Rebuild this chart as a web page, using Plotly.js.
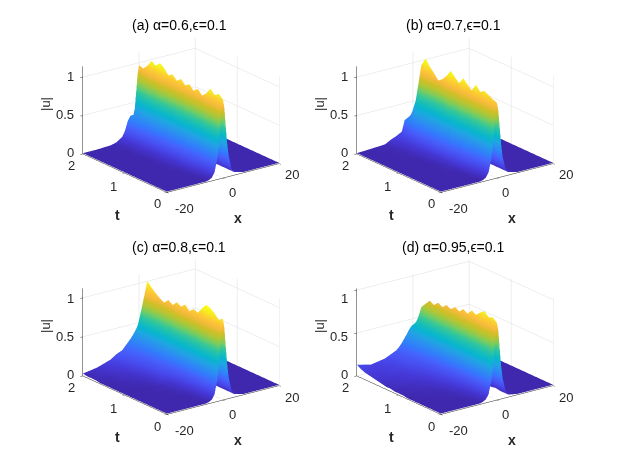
<!DOCTYPE html>
<html><head><meta charset="utf-8">
<script src="https://cdn.plot.ly/plotly-3.0.1.min.js"></script>
<style>html,body{margin:0;padding:0;background:#fff;}#plot{width:623px;height:467px;}#dbg{position:absolute;left:2px;top:455px;font:9px sans-serif;color:#c00}</style>
</head><body><div id="plot"></div><div id="dbg"></div>
<script>
window.onerror = function(m){ document.getElementById('dbg').textContent += ' ERR ' + m; };
// ---- data ----
var xVals = [-20,-15,-10,-8,-6,-5,-4,-3,-2,-1.5,-1,-0.5,0,0.5,1,1.5,2,3,4,7,12,20];
var tVals = [0,0.1,0.2,0.3,0.4,0.5,0.6,0.7,0.8,0.9,1.0,1.1,1.2,1.3,1.4,1.5,1.6,1.7,1.8,1.9,2.0];
var titles = ['(a) \u03b1=0.6,\u03f5=0.1','(b) \u03b1=0.7,\u03f5=0.1','(c) \u03b1=0.8,\u03f5=0.1','(d) \u03b1=0.95,\u03f5=0.1'];
var xTicks = [-20,0,20];
var xTickText = ['-20','0','20'];
var tTicks = [0,1,2];
var tTickText = ['0','1','2'];
var zTicks = [0,0.5,1];
var zTickText = ['0','0.5','1'];
var zMax = [1.14,1.14,1.12,1.02];

var zA = [
[.01,.01,.01,.01,.01,.02,.04,.10,.28,.44,.66,.91,1.02,.91,.66,.44,.28,.10,.04,.01,.01,.01],
[.01,.01,.01,.01,.01,.02,.05,.12,.30,.46,.70,.95,1.07,.95,.70,.46,.29,.11,.04,.01,.01,.01],
[.01,.01,.01,.01,.02,.03,.06,.13,.29,.40,.66,.92,1.03,.92,.67,.44,.28,.10,.04,.01,.01,.01],
[.01,.01,.01,.01,.02,.04,.08,.15,.33,.49,.74,.97,1.09,.97,.71,.47,.29,.11,.04,.01,.01,.01],
[.01,.01,.01,.01,.02,.05,.10,.17,.25,.45,.60,.89,1.00,.89,.65,.43,.27,.10,.04,.01,.01,.01],
[.01,.01,.01,.01,.03,.06,.12,.20,.34,.38,.60,.85,.95,.85,.62,.41,.26,.10,.04,.01,.01,.01],
[.01,.01,.01,.01,.03,.07,.11,.18,.30,.50,.68,.90,1.01,.90,.66,.43,.27,.10,.04,.01,.01,.01],
[.01,.01,.01,.02,.04,.08,.14,.22,.36,.40,.57,.86,.96,.85,.62,.41,.26,.10,.04,.01,.01,.01],
[.01,.01,.01,.02,.04,.07,.12,.19,.28,.48,.72,.92,1.02,.91,.66,.44,.28,.10,.04,.01,.01,.01],
[.01,.01,.01,.02,.05,.09,.15,.24,.38,.42,.62,.87,.98,.87,.64,.42,.26,.10,.04,.01,.01,.01],
[.01,.01,.01,.02,.05,.08,.14,.22,.31,.50,.70,.93,1.04,.93,.68,.45,.28,.10,.04,.01,.01,.01],
[.01,.01,.01,.02,.06,.10,.17,.26,.40,.44,.60,.88,.99,.88,.64,.43,.27,.10,.04,.01,.01,.01],
[.01,.01,.01,.02,.05,.09,.16,.24,.33,.52,.74,.94,1.05,.93,.68,.45,.28,.11,.04,.01,.01,.01],
[.01,.01,.01,.02,.06,.11,.19,.28,.42,.45,.66,.90,1.01,.90,.66,.43,.27,.10,.04,.01,.01,.01],
[.01,.01,.01,.03,.06,.10,.18,.27,.36,.53,.72,.96,1.08,.96,.70,.46,.29,.11,.04,.01,.01,.01],
[.01,.01,.01,.03,.07,.12,.21,.30,.44,.50,.78,1.00,1.12,1.00,.73,.48,.30,.11,.04,.01,.01,.01],
[.01,.01,.01,.03,.07,.11,.20,.29,.37,.50,.68,.95,1.06,.94,.69,.46,.29,.11,.04,.01,.01,.01],
[.01,.01,.01,.03,.08,.13,.23,.31,.45,.55,.76,.98,1.10,.98,.72,.47,.30,.11,.04,.01,.01,.01],
[.01,.01,.02,.03,.08,.14,.25,.33,.40,.46,.67,.90,1.01,.90,.66,.43,.27,.10,.04,.01,.01,.01],
[.01,.01,.02,.04,.09,.15,.27,.35,.36,.44,.63,.85,.95,.85,.62,.41,.26,.10,.04,.01,.01,.01],
[.01,.01,.02,.04,.09,.16,.28,.34,.34,.42,.64,.86,.97,.86,.63,.42,.26,.10,.04,.01,.01,.01]
];
var zB = [
[.01,.01,.01,.01,.01,.02,.04,.10,.27,.42,.64,.87,.98,.87,.64,.42,.26,.10,.04,.01,.01,.01],
[.01,.01,.01,.01,.01,.02,.05,.11,.28,.44,.66,.89,1.00,.89,.65,.43,.27,.10,.04,.01,.01,.01],
[.01,.01,.01,.01,.02,.03,.06,.13,.30,.40,.68,.92,1.03,.92,.67,.44,.28,.10,.04,.01,.01,.01],
[.01,.01,.01,.01,.02,.04,.08,.16,.31,.47,.73,.94,1.06,.94,.69,.46,.29,.11,.04,.01,.01,.01],
[.01,.01,.01,.01,.02,.05,.10,.19,.25,.44,.60,.91,1.02,.91,.66,.44,.28,.10,.04,.01,.01,.01],
[.01,.01,.01,.01,.03,.06,.12,.21,.36,.50,.76,.97,1.09,.97,.71,.47,.29,.11,.04,.01,.01,.01],
[.01,.01,.01,.02,.03,.07,.14,.24,.38,.40,.58,.88,.99,.88,.64,.43,.27,.10,.04,.01,.01,.01],
[.01,.01,.01,.02,.04,.08,.13,.22,.30,.49,.69,.93,1.04,.93,.68,.45,.28,.10,.04,.01,.01,.01],
[.01,.01,.01,.02,.04,.09,.16,.26,.40,.52,.76,.98,1.10,.98,.72,.47,.30,.11,.04,.01,.01,.01],
[.01,.01,.01,.02,.05,.10,.18,.28,.42,.43,.60,.90,1.01,.90,.66,.43,.27,.10,.04,.01,.01,.01],
[.01,.01,.01,.02,.05,.09,.16,.25,.33,.51,.70,.94,1.06,.94,.69,.46,.29,.11,.04,.01,.01,.01],
[.01,.01,.01,.03,.06,.11,.19,.29,.43,.55,.79,1.00,1.12,1.00,.73,.48,.30,.11,.04,.01,.01,.01],
[.01,.01,.01,.03,.06,.12,.21,.31,.38,.46,.62,.92,1.03,.92,.67,.44,.28,.10,.04,.01,.01,.01],
[.01,.01,.01,.03,.07,.11,.19,.28,.40,.50,.66,.85,.96,.85,.62,.41,.26,.10,.04,.01,.01,.01],
[.01,.01,.02,.03,.07,.12,.20,.30,.36,.44,.58,.82,.92,.82,.60,.40,.25,.09,.04,.01,.01,.01],
[.01,.01,.02,.04,.08,.13,.22,.32,.45,.49,.68,.88,.99,.88,.64,.43,.27,.10,.04,.01,.01,.01],
[.01,.01,.02,.04,.08,.12,.21,.33,.40,.52,.66,.93,1.05,.93,.68,.45,.28,.10,.04,.01,.01,.01],
[.01,.01,.02,.04,.09,.13,.23,.34,.47,.56,.78,1.01,1.13,1.01,.73,.49,.31,.11,.04,.01,.01,.01],
[.01,.01,.02,.05,.09,.12,.20,.32,.44,.51,.67,.91,1.02,.91,.66,.44,.28,.10,.04,.01,.01,.01],
[.01,.01,.03,.06,.10,.12,.15,.30,.33,.36,.42,.54,.60,.54,.39,.26,.16,.06,.03,.01,.01,.01],
[.01,.02,.03,.07,.10,.12,.14,.28,.30,.31,.32,.34,.35,.32,.23,.15,.10,.04,.02,.01,.01,.01]
];
var zC = [
[.01,.01,.01,.01,.01,.02,.04,.10,.28,.45,.67,.93,1.04,.92,.67,.45,.28,.10,.04,.01,.01,.01],
[.01,.01,.01,.01,.01,.02,.05,.11,.28,.43,.65,.89,1.00,.89,.65,.43,.27,.10,.04,.01,.01,.01],
[.01,.01,.01,.01,.02,.03,.06,.12,.30,.40,.69,.94,1.06,.94,.69,.46,.29,.11,.04,.01,.01,.01],
[.01,.01,.01,.01,.02,.03,.07,.14,.32,.48,.75,.98,1.10,.98,.72,.47,.30,.11,.04,.01,.01,.01],
[.01,.01,.01,.01,.02,.04,.08,.15,.27,.49,.70,1.00,1.12,1.00,.73,.48,.30,.11,.04,.01,.01,.01],
[.01,.01,.01,.02,.03,.05,.09,.16,.31,.40,.68,.93,1.05,.93,.68,.45,.28,.11,.04,.01,.01,.01],
[.01,.01,.01,.02,.04,.06,.11,.18,.33,.47,.60,.86,.97,.86,.63,.42,.26,.10,.04,.01,.01,.01],
[.01,.01,.01,.02,.04,.07,.11,.17,.27,.45,.67,.88,.99,.88,.64,.43,.27,.10,.04,.01,.01,.01],
[.01,.01,.02,.03,.05,.08,.13,.20,.34,.40,.58,.84,.94,.84,.61,.40,.25,.09,.04,.01,.01,.01],
[.01,.01,.02,.03,.06,.09,.14,.19,.32,.48,.65,.89,1.00,.89,.65,.43,.27,.10,.04,.01,.01,.01],
[.01,.01,.02,.05,.10,.13,.16,.22,.36,.42,.62,.85,.95,.85,.62,.41,.26,.10,.04,.01,.01,.01],
[.01,.01,.03,.05,.11,.14,.17,.23,.31,.46,.66,.87,.98,.87,.64,.42,.26,.10,.04,.01,.01,.01],
[.01,.02,.03,.06,.12,.15,.19,.25,.37,.43,.58,.82,.92,.82,.60,.40,.25,.09,.04,.01,.01,.01],
[.01,.02,.04,.07,.13,.16,.20,.26,.33,.47,.63,.85,.96,.85,.62,.41,.26,.10,.04,.01,.01,.01],
[.01,.02,.05,.08,.14,.17,.21,.27,.38,.42,.59,.80,.90,.80,.58,.39,.24,.09,.04,.01,.01,.01],
[.01,.03,.06,.10,.15,.18,.22,.28,.34,.46,.61,.83,.93,.83,.60,.40,.25,.09,.04,.01,.01,.01],
[.01,.03,.07,.11,.16,.19,.23,.29,.39,.44,.64,.86,.97,.86,.63,.42,.26,.10,.04,.01,.01,.01],
[.02,.04,.08,.12,.17,.20,.24,.30,.36,.50,.69,.91,1.02,.91,.66,.44,.28,.10,.04,.01,.01,.01],
[.02,.05,.09,.13,.18,.21,.25,.31,.41,.52,.73,.96,1.08,.96,.70,.46,.29,.11,.04,.01,.01,.01],
[.02,.05,.10,.15,.19,.23,.27,.32,.40,.46,.55,.72,.80,.71,.52,.34,.22,.08,.03,.01,.01,.01],
[.03,.06,.12,.17,.20,.24,.28,.32,.37,.40,.43,.45,.47,.42,.31,.20,.13,.05,.02,.01,.01,.01]
];
var zD = [
[.01,.01,.01,.01,.01,.02,.04,.09,.24,.39,.59,.80,.90,.80,.58,.38,.24,.09,.03,.01,.01,.01],
[.01,.01,.01,.01,.02,.03,.05,.10,.26,.41,.61,.84,.94,.83,.61,.40,.25,.09,.03,.01,.01,.01],
[.01,.01,.01,.01,.02,.03,.06,.12,.27,.36,.60,.82,.92,.82,.60,.40,.25,.09,.03,.01,.01,.01],
[.01,.01,.01,.01,.03,.04,.07,.13,.28,.42,.66,.86,.97,.86,.63,.42,.26,.10,.04,.01,.01,.01],
[.01,.01,.01,.02,.03,.05,.08,.14,.23,.41,.58,.83,.93,.83,.60,.40,.25,.09,.03,.01,.01,.01],
[.01,.01,.02,.02,.04,.06,.09,.15,.27,.35,.58,.78,.88,.78,.57,.38,.24,.09,.03,.01,.01,.01],
[.01,.01,.02,.03,.05,.07,.10,.16,.29,.44,.60,.81,.91,.81,.59,.39,.25,.09,.03,.01,.01,.01],
[.01,.02,.02,.03,.06,.08,.11,.17,.25,.38,.53,.76,.85,.75,.55,.37,.23,.08,.03,.01,.01,.01],
[.01,.02,.03,.04,.07,.09,.12,.18,.30,.42,.61,.78,.88,.78,.57,.38,.24,.09,.03,.01,.01,.01],
[.02,.02,.03,.05,.08,.10,.13,.19,.26,.36,.55,.74,.83,.74,.54,.36,.22,.08,.03,.01,.01,.01],
[.02,.03,.04,.06,.09,.11,.14,.20,.31,.42,.57,.77,.86,.76,.56,.37,.23,.09,.03,.01,.01,.01],
[.02,.03,.05,.07,.10,.12,.15,.21,.32,.37,.51,.72,.81,.72,.53,.35,.22,.08,.03,.01,.01,.01],
[.03,.04,.06,.08,.11,.13,.16,.22,.29,.42,.58,.75,.84,.75,.55,.36,.23,.08,.03,.01,.01,.01],
[.03,.05,.07,.09,.12,.14,.17,.23,.33,.38,.53,.70,.79,.70,.51,.34,.21,.08,.03,.01,.01,.01],
[.04,.05,.08,.10,.13,.15,.18,.24,.31,.43,.55,.73,.82,.73,.53,.35,.22,.08,.03,.01,.01,.01],
[.05,.06,.08,.11,.14,.16,.19,.25,.34,.39,.50,.69,.77,.68,.50,.33,.21,.08,.03,.01,.01,.01],
[.06,.07,.09,.12,.15,.17,.20,.26,.32,.44,.56,.71,.80,.71,.52,.34,.22,.08,.03,.01,.01,.01],
[.07,.07,.10,.13,.16,.18,.22,.27,.36,.41,.51,.66,.74,.66,.48,.32,.20,.07,.03,.01,.01,.01],
[.08,.08,.10,.13,.17,.19,.23,.28,.37,.42,.50,.60,.68,.60,.44,.29,.18,.07,.03,.01,.01,.01],
[.10,.08,.11,.14,.17,.20,.24,.29,.36,.40,.44,.48,.50,.45,.33,.22,.14,.05,.02,.01,.01,.01],
[.13,.09,.12,.15,.18,.21,.25,.30,.35,.38,.40,.42,.42,.38,.28,.18,.12,.04,.02,.01,.01,.01]
];
var panels = [zA, zB, zC, zD];

// ---- style ----
var parula = [
 [0/63,'rgb(62,38,168)'],[4/63,'rgb(69,55,213)'],[8/63,'rgb(72,77,240)'],[12/63,'rgb(69,99,253)'],
 [16/63,'rgb(50,124,252)'],[20/63,'rgb(43,145,239)'],[24/63,'rgb(32,165,227)'],[28/63,'rgb(8,181,208)'],
 [32/63,'rgb(25,191,182)'],[36/63,'rgb(55,200,151)'],[40/63,'rgb(114,205,100)'],[44/63,'rgb(171,199,57)'],
 [48/63,'rgb(209,191,39)'],[52/63,'rgb(248,186,61)'],[56/63,'rgb(252,207,48)'],[60/63,'rgb(246,239,32)'],
 [1,'rgb(249,251,21)']
];
var FONT = 'Liberation Sans, Arial, Helvetica, sans-serif';
var TXT = '#262626';
var W = 623, H = 467, dw = 300, dh = 230;
var offs = [[0,0],[274,0],[0,222],[274,222]];
var boxCenter = [181,114.5];
var r = 1.32;
var eye = {x:-0.5627*r, y:-0.7524*r, z:0.3431*r};
var zLabPos = [[76,152],[76,114],[76,76]];
var tLabPos = [[157,204],[113,186],[71,165]];
var xLabPos = [[184,208],[232,192],[292,175]];

var data = [], layout = {width:W, height:H, margin:{l:0,r:0,t:0,b:0}, paper_bgcolor:'#fff', showlegend:false, annotations:[]};
function axisStyle(range, ticks){
  return {range:range, tickvals:ticks, showticklabels:false, title:{text:''}, showbackground:false, showgrid:true,
    gridcolor:'#dedede', gridwidth:1, showline:true, linecolor:TXT, linewidth:1, ticks:'outside', ticklen:3,
    tickcolor:TXT, zeroline:false, showspikes:false};
}
function ann(text, px, py, xa, size, extra){
  var a = {text:text, x:px/W, y:1-py/H, xref:'paper', yref:'paper', showarrow:false, xanchor:xa, yanchor:'middle',
    font:{family:FONT, size:size, color:TXT}};
  for (var k in (extra||{})) a[k] = extra[k];
  layout.annotations.push(a);
}
for (var i=0;i<4;i++){
  var sid = i===0 ? 'scene' : 'scene'+(i+1);
  var ox = offs[i][0], oy = offs[i][1];
  var cx = boxCenter[0]+ox, cy = boxCenter[1]+oy;
  data.push({type:'surface', x:xVals, y:tVals, z:panels[i], scene:sid, colorscale:parula, showscale:false,
    cmin:0, cmax:zMax[i]-0.02, lighting:{ambient:1, diffuse:0, specular:0, roughness:1, fresnel:0}, hoverinfo:'skip'});
  layout[sid] = {
    domain:{x:[(cx-dw/2)/W,(cx+dw/2)/W], y:[1-(cy+dh/2)/H, 1-(cy-dh/2)/H]},
    aspectmode:'manual', aspectratio:{x:1.22,y:1.22,z:0.81},
    camera:{eye:eye, up:{x:0,y:0,z:1}, center:{x:0,y:0,z:0}, projection:{type:'orthographic'}},
    xaxis:axisStyle([-20,20], xTicks),
    yaxis:axisStyle([0,2], tTicks),
    zaxis:axisStyle([0,zMax[i]], zTicks)
  };
  ann(titles[i], 179+ox, 25+oy, 'center', 14, {font:{family:FONT, size:14, color:'#000'}});
  for (var k=0;k<3;k++){
    ann(zTickText[k], zLabPos[k][0]+ox, zLabPos[k][1]+oy, 'right', 13);
    ann(tTickText[k], tLabPos[k][0]+ox, tLabPos[k][1]+oy, 'center', 13);
    ann(xTickText[k], xLabPos[k][0]+ox, xLabPos[k][1]+oy, 'center', 13);
  }
  ann('<b>t</b>', 117+ox, 215+oy, 'center', 14);
  ann('<b>x</b>', 238+ox, 218+oy, 'center', 14);
  ann('|u|', 45+ox, 104+oy, 'center', 13, {textangle:-90});
}
Plotly.newPlot('plot', data, layout, {displayModeBar:false}).then(function(){}, function(e){ document.getElementById('dbg').textContent += ' REJ ' + e; });
</script></body></html>
